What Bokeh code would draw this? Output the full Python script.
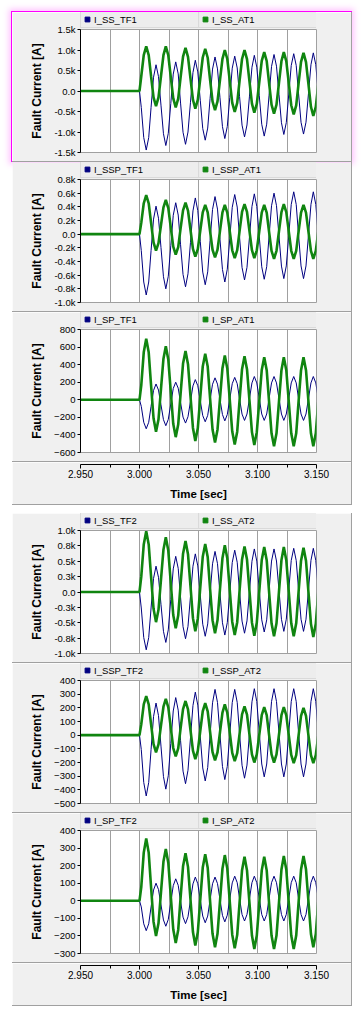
from bokeh.plotting import figure
from bokeh.models import (Range1d, FixedTicker, CustomJSTickFormatter, PrintfTickFormatter,
                          Legend, LegendItem, Spacer)
from bokeh.layouts import column, row
from bokeh.embed import file_html
from bokeh.resources import INLINE

# ---------------- data ----------------
TIME = [2.950, 3.000,
        3.0015, 3.0036, 3.0057, 3.0078, 3.0098, 3.0119, 3.0140, 3.0161,
        3.0182, 3.0203, 3.0223, 3.0244, 3.0265, 3.0286, 3.0307, 3.0328,
        3.0348, 3.0369, 3.0390, 3.0411, 3.0432, 3.0453, 3.0473, 3.0494,
        3.0515, 3.0536, 3.0557, 3.0578, 3.0598, 3.0619, 3.0640, 3.0661,
        3.0682, 3.0703, 3.0723, 3.0744, 3.0765, 3.0786, 3.0807, 3.0828,
        3.0848, 3.0869, 3.0890, 3.0911, 3.0932, 3.0953, 3.0973, 3.0994,
        3.1015, 3.1036, 3.1057, 3.1078, 3.1098, 3.1119, 3.1140, 3.1161,
        3.1182, 3.1203, 3.1223, 3.1244, 3.1265, 3.1286, 3.1307, 3.1328,
        3.1348, 3.1369, 3.1390, 3.1411, 3.1432, 3.1453, 3.1473, 3.1494,
        3.1515]

I_SS_TF1 = [0, 0,
    -400, -1136, -1440, -1136, -400, 336, 640, 352,
    -345, -1042, -1330, -1032, -310, 412, 710, 417,
    -295, -1007, -1300, -1001, -275, 451, 750, 465,
    -225, -915, -1200, -904, -185, 534, 830, 539,
    -165, -869, -1160, -867, -155, 557, 850, 562,
    -135, -832, -1120, -829, -125, 579, 870, 582,
    -115, -812, -1100, -809, -105, 599, 890, 605,
    -85, -775, -1060, -772, -75, 622, 910, 624,
    -70, -764, -1050, -761, -60, 641, 930, 641,
    -60]
I_SS_AT1 = [0, 0,
    360, 877, 1090, 877, 360, -157, -370, -157,
    360, 877, 1090, 872, 345, -182, -400, -188,
    325, 838, 1050, 834, 310, -214, -430, -217,
    300, 817, 1030, 811, 280, -251, -470, -255,
    265, 785, 1000, 780, 245, -290, -510, -290,
    245, 780, 1000, 777, 235, -307, -530, -314,
    210, 734, 950, 731, 200, -331, -550, -331,
    200, 731, 950, 728, 190, -348, -570, -351,
    180, 711, 930, 705, 160, -385, -610, -385,
    160]
I_SSP_TF1 = [0, 0,
    -240, -700, -890, -700, -240, 220, 410, 233,
    -195, -623, -800, -616, -170, 276, 460, 280,
    -155, -590, -770, -580, -120, 340, 530, 345,
    -105, -555, -740, -552, -95, 362, 550, 367,
    -75, -517, -700, -513, -60, 393, 580, 397,
    -45, -487, -670, -486, -40, 406, 590, 407,
    -35, -477, -660, -476, -30, 416, 600, 417,
    -25, -467, -650, -465, -15, 435, 620, 435,
    -15, -465, -650, -465, -15, 435, 620, 435,
    -15]
I_SSP_AT1 = [0, 0,
    165, 452, 570, 452, 165, -122, -240, -132,
    130, 392, 500, 383, 100, -183, -300, -189,
    80, 349, 460, 345, 65, -215, -330, -219,
    50, 319, 430, 318, 45, -228, -340, -228,
    45, 318, 430, 316, 40, -236, -350, -235,
    45, 325, 440, 325, 45, -235, -350, -236,
    40, 316, 430, 315, 35, -245, -360, -243,
    40, 323, 440, 323, 40, -243, -360, -245,
    35, 315, 430, 315, 35, -245, -360, -245,
    35]
I_SP_TF1 = [0, 0,
    -75, -256, -330, -256, -75, 106, 180, 111,
    -58, -226, -295, -223, -48, 128, 200, 132,
    -32, -197, -265, -193, -18, 158, 230, 160,
    -10, -180, -250, -177, 0, 177, 250, 178,
    5, -168, -240, -168, 8, 183, 255, 183,
    10, -163, -235, -162, 15, 192, 265, 192,
    15, -162, -235, -162, 15, 192, 265, 192,
    15, -162, -235, -162, 15, 192, 265, 192,
    15, -162, -235, -162, 15, 192, 265, 192,
    15]
I_SP_AT1 = [0, 0,
    165, 540, 695, 540, 165, -210, -365, -223,
    122, 468, 610, 459, 92, -274, -425, -282,
    65, 412, 555, 405, 42, -320, -470, -325,
    27, 380, 525, 378, 20, -338, -485, -340,
    10, 360, 505, 357, -2, -362, -510, -363,
    -7, 348, 495, 348, -10, -368, -515, -369,
    -15, 339, 485, 337, -22, -382, -530, -382,
    -22, 337, 485, 337, -22, -382, -530, -382,
    -22, 337, 485, 337, -22, -382, -530, -382,
    -22]
I_SS_TF2 = [0, 0,
    -260, -741, -940, -741, -260, 221, 420, 239,
    -200, -639, -820, -616, -120, 376, 580, 384,
    -90, -564, -760, -559, -70, 419, 620, 424,
    -50, -524, -720, -519, -30, 459, 660, 461,
    -20, -501, -700, -499, -10, 479, 680, 483,
    5, -473, -670, -470, 15, 500, 700, 503,
    25, -453, -650, -453, 25, 503, 700, 504,
    30, -444, -640, -443, 35, 513, 710, 513,
    35, -443, -640, -443, 35, 513, 710, 513,
    35]
I_SS_AT2 = [0, 0,
    250, 774, 990, 774, 250, -274, -490, -289,
    200, 689, 890, 674, 150, -374, -590, -383,
    120, 623, 830, 615, 95, -425, -640, -433,
    70, 573, 780, 568, 55, -458, -670, -461,
    45, 551, 760, 547, 30, -487, -700, -490,
    20, 530, 740, 528, 15, -498, -710, -500,
    10, 520, 730, 518, 5, -508, -720, -508,
    5, 518, 730, 518, 5, -508, -720, -510,
    0, 510, 720, 508, -5, -518, -730, -518,
    -5]
I_SSP_TF2 = [0, 0,
    -105, -346, -445, -346, -105, 136, 235, 143,
    -80, -303, -395, -297, -60, 177, 275, 183,
    -40, -263, -355, -257, -20, 217, 315, 220,
    -10, -240, -335, -237, 0, 237, 335, 239,
    5, -229, -325, -229, 5, 239, 335, 240,
    10, -220, -315, -219, 13, 244, 340, 246,
    18, -211, -305, -211, 18, 246, 340, 246,
    18, -211, -305, -211, 18, 246, 340, 246,
    18, -211, -305, -211, 18, 246, 340, 246,
    18]
I_SSP_AT2 = [0, 0,
    80, 225, 285, 225, 80, -65, -125, -68,
    70, 208, 265, 204, 55, -94, -155, -96,
    48, 191, 250, 188, 38, -113, -175, -115,
    30, 175, 235, 174, 25, -124, -185, -125,
    20, 165, 225, 164, 18, -129, -190, -132,
    10, 152, 210, 150, 5, -140, -200, -141,
    3, 146, 205, 146, 3, -141, -200, -141,
    3, 146, 205, 145, 0, -145, -205, -146,
    -3, 141, 200, 141, -3, -146, -205, -146,
    -3]
I_SP_TF2 = [0, 0,
    -35, -131, -170, -131, -35, 61, 100, 64,
    -23, -109, -145, -106, -10, 86, 125, 88,
    -3, -93, -130, -91, 3, 96, 135, 97,
    5, -87, -125, -87, 5, 97, 135, 98,
    8, -83, -120, -82, 10, 102, 140, 103,
    13, -78, -115, -78, 13, 103, 140, 103,
    13, -78, -115, -78, 13, 103, 140, 103,
    13, -78, -115, -78, 13, 103, 140, 103,
    13, -78, -115, -78, 13, 103, 140, 103,
    13]
I_SP_AT2 = [0, 0,
    78, 274, 355, 274, 78, -119, -200, -128,
    48, 223, 295, 217, 28, -162, -240, -166,
    15, 196, 270, 193, 8, -178, -255, -179,
    5, 189, 265, 188, 0, -188, -265, -188,
    -3, 183, 260, 183, -5, -193, -270, -194,
    -10, 174, 250, 173, -13, -198, -275, -198,
    -13, 173, 250, 173, -13, -198, -275, -198,
    -10, 178, 255, 178, -10, -198, -275, -198,
    -10, 178, 255, 179, -5, -189, -265, -189,
    -5]

X_TICKS = [2.950, 3.000, 3.050, 3.100, 3.150]
X_MINOR = [2.975, 3.025, 3.075, 3.125]
Y_TICKS_SS1 = [-1500, -1000, -500, 0, 500, 1000, 1500]
Y_TICKS_SSP1 = [-1000, -800, -600, -400, -200, 0, 200, 400, 600, 800]
Y_TICKS_SP1 = [-600, -400, -200, 0, 200, 400, 600, 800]
Y_TICKS_SS2 = [-1000, -750, -500, -250, 0, 250, 500, 750, 1000]
Y_TICKS_SSP2 = [-500, -400, -300, -200, -100, 0, 100, 200, 300, 400]
Y_TICKS_SP2 = [-300, -200, -100, 0, 100, 200, 300, 400]

# ---------------- styling ----------------
PANEL_BG = "#f0f0f0"
GRID = "#a0a0a0"
BLUE = "#000080"
GREEN = "#108510"
FONT = "Liberation Sans"
W = 339
PANEL_H = 149
STRIP_H = 17
B_LEFT = 68
B_RIGHT = 35
NAN = float("nan")


def kfmt():
    return CustomJSTickFormatter(
        code="return tick === 0 ? '0.0' : (tick / 1000).toFixed(1) + 'k';")


def make_strip(tf_name, at_name):
    # legend header, laid over the top border of the plot below it
    s = figure(width=W, height=STRIP_H, x_range=Range1d(0, 1), y_range=Range1d(0, 1),
               x_axis_location=None, y_axis_location=None, toolbar_location=None,
               output_backend="svg", min_border_left=B_LEFT, min_border_right=B_RIGHT,
               min_border_top=0, min_border_bottom=1, background_fill_alpha=0,
               border_fill_alpha=0, outline_line_color=None,
               styles={"margin-top": f"-{PANEL_H}px",
                       "margin-bottom": f"{PANEL_H - STRIP_H}px"})
    s.grid.visible = False
    m1 = s.scatter([NAN], [NAN], marker="square", size=5, color=BLUE)
    m2 = s.scatter([NAN], [NAN], marker="square", size=5, color=GREEN)
    common = dict(orientation="horizontal", margin=0, padding=0, spacing=0,
                  glyph_width=12, glyph_height=12, label_standoff=1,
                  label_width=105, label_height=16, label_text_font=FONT,
                  label_text_font_size="9.5px", label_text_color="#000000",
                  background_fill_color="#ececec", border_line_color="#c8c8c8")
    l1 = Legend(items=[LegendItem(label=tf_name, renderers=[m1])], location=(0, 0), **common)
    l2 = Legend(items=[LegendItem(label=at_name, renderers=[m2])], location=(118, 0), **common)
    s.add_layout(l1)
    s.add_layout(l2)
    return s


def make_plot(tf_vals, at_vals, yticks, use_k):
    p = figure(width=W, height=PANEL_H, x_range=Range1d(2.95, 3.15),
               y_range=Range1d(yticks[0], yticks[-1]),
               x_axis_location=None, toolbar_location=None, output_backend="svg",
               min_border_left=B_LEFT, min_border_right=B_RIGHT, min_border_top=STRIP_H,
               min_border_bottom=9, background_fill_color="white",
               border_fill_color=PANEL_BG, outline_line_color=GRID,
               outline_line_width=1)
    p.xgrid.ticker = FixedTicker(ticks=X_TICKS, minor_ticks=X_MINOR)
    p.xgrid.grid_line_color = GRID
    p.xgrid.minor_grid_line_color = GRID
    p.ygrid.visible = False

    ya = p.yaxis[0]
    ya.ticker = FixedTicker(ticks=yticks)
    if use_k:
        ya.formatter = kfmt()
    ya.axis_label = "Fault Current [A]"
    ya.axis_label_text_font = FONT
    ya.axis_label_text_font_style = "bold"
    ya.axis_label_text_font_size = "12px"
    ya.axis_label_text_color = "#000000"
    ya.axis_label_standoff = 7
    ya.major_label_text_font = FONT
    ya.major_label_text_font_size = "9.5px"
    ya.major_label_text_color = "#000000"
    ya.major_label_standoff = 2
    ya.major_tick_out = 3
    ya.major_tick_in = 0
    ya.minor_tick_out = 0
    ya.minor_tick_in = 0
    ya.axis_line_color = "black"
    ya.major_tick_line_color = "black"

    p.line(TIME, tf_vals, color=BLUE, line_width=1)
    p.line(TIME, at_vals, color=GREEN, line_width=2.6)
    return p


def make_panel(tf_name, tf_vals, at_name, at_vals, yticks, use_k, styles=None):
    kw = {"styles": styles} if styles else {}
    return column(make_plot(tf_vals, at_vals, yticks, use_k),
                  make_strip(tf_name, at_name), **kw)


def make_time_axis(height):
    a = figure(width=W, height=height, x_range=Range1d(2.95, 3.15),
               y_range=Range1d(0, 1), y_axis_location=None,
               toolbar_location=None, output_backend="svg",
               min_border_left=B_LEFT, min_border_right=B_RIGHT, min_border_top=1,
               min_border_bottom=height - 2, background_fill_color=PANEL_BG,
               border_fill_color=PANEL_BG, outline_line_color=None)
    a.grid.visible = False
    xa = a.xaxis[0]
    xa.ticker = FixedTicker(ticks=X_TICKS, minor_ticks=X_MINOR)
    xa.formatter = PrintfTickFormatter(format="%.3f")
    xa.axis_label = "Time [sec]"
    xa.axis_label_text_font = FONT
    xa.axis_label_text_font_style = "bold"
    xa.axis_label_text_font_size = "11.5px"
    xa.axis_label_text_color = "#000000"
    xa.axis_label_standoff = 7
    xa.major_label_text_font = FONT
    xa.major_label_text_font_size = "10px"
    xa.major_label_text_color = "#000000"
    xa.major_label_standoff = 1
    xa.major_tick_out = 4
    xa.major_tick_in = 0
    xa.minor_tick_out = 3
    xa.minor_tick_in = 0
    xa.axis_line_color = "black"
    xa.major_tick_line_color = "black"
    xa.minor_tick_line_color = "black"
    return a


def hsep():
    return Spacer(width=W, height=1, styles={"background-color": GRID})


def vsep(h):
    return Spacer(width=1, height=h, styles={"background-color": GRID})


sel = {"outline": "1px solid #ff00ff",
       "box-shadow": "0 0 6px 3px rgba(255, 120, 255, 0.45)"}

P1 = make_panel("I_SS_TF1", I_SS_TF1, "I_SS_AT1", I_SS_AT1, Y_TICKS_SS1, True, styles=sel)
P2 = make_panel("I_SSP_TF1", I_SSP_TF1, "I_SSP_AT1", I_SSP_AT1, Y_TICKS_SSP1, True)
P3 = make_panel("I_SP_TF1", I_SP_TF1, "I_SP_AT1", I_SP_AT1, Y_TICKS_SP1, False)
A1 = make_time_axis(42)
P4 = make_panel("I_SS_TF2", I_SS_TF2, "I_SS_AT2", I_SS_AT2, Y_TICKS_SS2, True)
P5 = make_panel("I_SSP_TF2", I_SSP_TF2, "I_SSP_AT2", I_SSP_AT2, Y_TICKS_SSP2, False)
P6 = make_panel("I_SP_TF2", I_SP_TF2, "I_SP_AT2", I_SP_AT2, Y_TICKS_SP2, False)
A2 = make_time_axis(42)

g1 = column(P1, hsep(), P2, hsep(), P3, hsep(), A1, hsep())
g2 = column(P4, hsep(), P5, hsep(), P6, hsep(), A2, hsep())
gh = PANEL_H * 3 + 42 + 4

layout = column(Spacer(width=10, height=12),
                row(Spacer(width=12, height=gh), g1, vsep(gh)),
                Spacer(width=10, height=8),
                row(Spacer(width=12, height=gh), g2, vsep(gh)))

open("out.html", "w").write(file_html(layout, INLINE))
